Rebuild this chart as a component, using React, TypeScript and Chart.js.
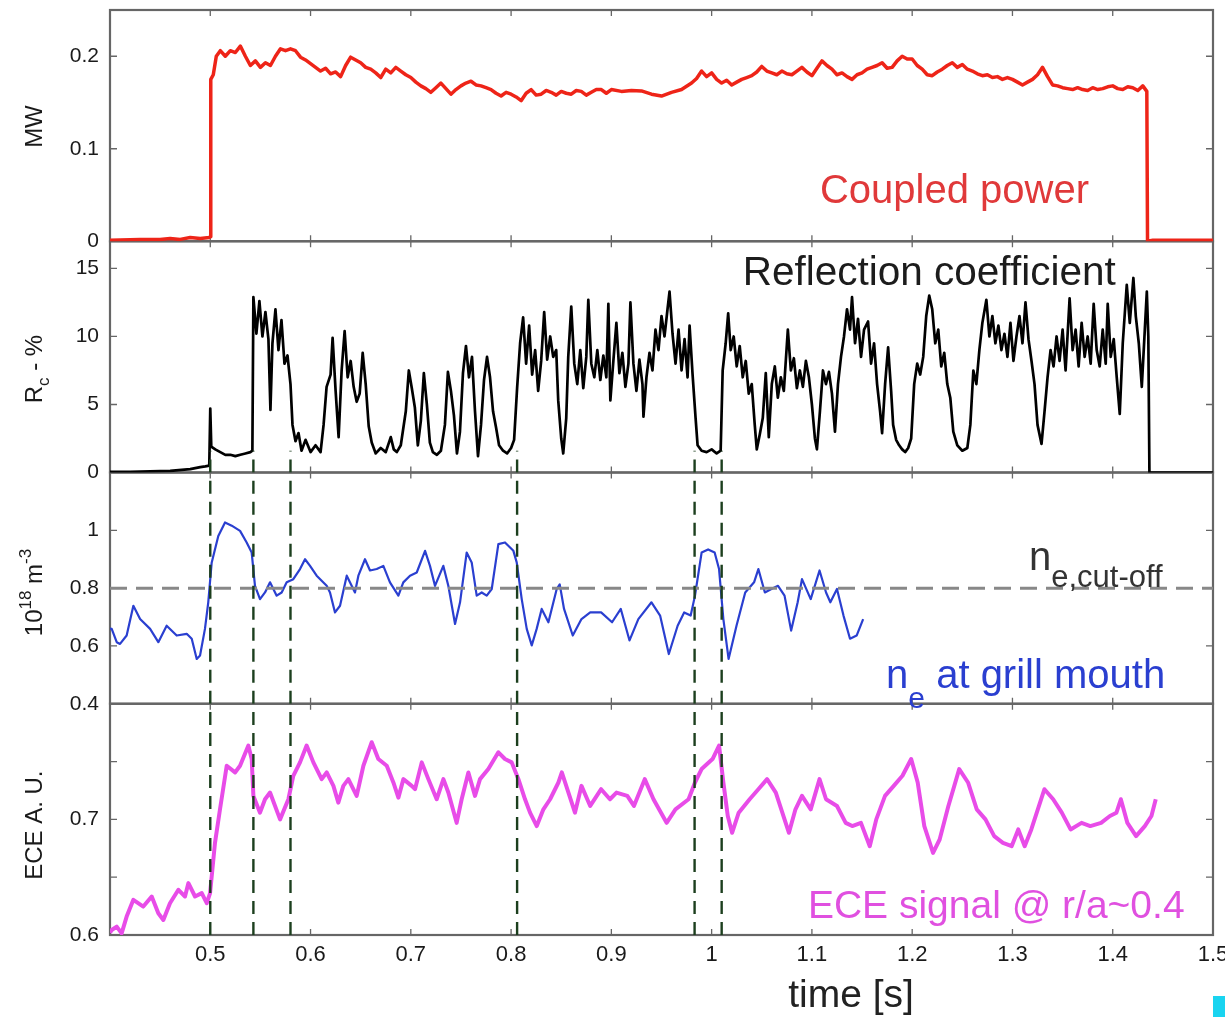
import React, { useEffect, useRef } from 'react';
import { Chart, registerables } from 'chart.js';

Chart.register(...registerables);

// ---------- axis ranges & ticks ----------
const X_MIN = 0.4;
const X_MAX = 1.5;
const xTicks = [0.5, 0.6, 0.7, 0.8, 0.9, 1.0, 1.1, 1.2, 1.3, 1.4, 1.5];
const powerTicks = [0, 0.1, 0.2];
const rcTicks = [0, 5, 10, 15];
const neTicks = [0.4, 0.6, 0.8, 1];
const eceTicks = [0.6, 0.65, 0.7, 0.75];
const eceLabeled = [0.6, 0.7];

// ---------- coupled power (MW) ----------
const powerT = [0.4, 0.43, 0.45, 0.46, 0.47, 0.48, 0.49, 0.499, 0.5, 0.5005, 0.503, 0.506, 0.51, 0.515, 0.52, 0.525, 0.53, 0.535, 0.54, 0.545, 0.55, 0.555, 0.56, 0.565, 0.57, 0.575, 0.58, 0.585, 0.59, 0.595, 0.6, 0.605, 0.61, 0.615, 0.62, 0.625, 0.63, 0.635, 0.64, 0.645, 0.65, 0.655, 0.66, 0.665, 0.67, 0.675, 0.68, 0.685, 0.69, 0.695, 0.7, 0.705, 0.71, 0.715, 0.72, 0.725, 0.73, 0.735, 0.74, 0.745, 0.75, 0.755, 0.76, 0.765, 0.77, 0.775, 0.78, 0.785, 0.79, 0.795, 0.8, 0.805, 0.81, 0.815, 0.82, 0.825, 0.83, 0.835, 0.84, 0.845, 0.85, 0.855, 0.86, 0.865, 0.87, 0.875, 0.88, 0.885, 0.89, 0.895, 0.9, 0.91, 0.92, 0.93, 0.94, 0.95, 0.96, 0.97, 0.98, 0.985, 0.99, 0.995, 1.0, 1.005, 1.01, 1.015, 1.02, 1.025, 1.03, 1.035, 1.04, 1.045, 1.05, 1.055, 1.06, 1.065, 1.07, 1.075, 1.08, 1.085, 1.09, 1.095, 1.1, 1.105, 1.11, 1.115, 1.12, 1.125, 1.13, 1.135, 1.14, 1.145, 1.15, 1.155, 1.16, 1.165, 1.17, 1.175, 1.18, 1.185, 1.19, 1.195, 1.2, 1.205, 1.21, 1.215, 1.22, 1.225, 1.23, 1.235, 1.24, 1.245, 1.25, 1.255, 1.26, 1.265, 1.27, 1.275, 1.28, 1.285, 1.29, 1.295, 1.3, 1.305, 1.31, 1.315, 1.32, 1.325, 1.33, 1.335, 1.34, 1.345, 1.35, 1.355, 1.36, 1.365, 1.37, 1.375, 1.38, 1.385, 1.39, 1.395, 1.4, 1.405, 1.41, 1.415, 1.42, 1.425, 1.43, 1.434, 1.4347, 1.44, 1.5];
const powerV = [0.001, 0.002, 0.002, 0.003, 0.002, 0.004, 0.003, 0.004, 0.005, 0.175, 0.18, 0.2, 0.206, 0.2, 0.206, 0.204, 0.211, 0.2, 0.19, 0.195, 0.188, 0.193, 0.19, 0.2, 0.208, 0.206, 0.208, 0.206, 0.199, 0.196, 0.192, 0.188, 0.184, 0.187, 0.181, 0.183, 0.178, 0.19, 0.199, 0.196, 0.193, 0.188, 0.186, 0.182, 0.177, 0.186, 0.182, 0.188, 0.184, 0.18, 0.177, 0.172, 0.168, 0.165, 0.161, 0.166, 0.171, 0.165, 0.159, 0.164, 0.168, 0.171, 0.173, 0.169, 0.168, 0.166, 0.164, 0.16, 0.157, 0.161, 0.159, 0.156, 0.152, 0.16, 0.164, 0.158, 0.159, 0.163, 0.161, 0.158, 0.162, 0.16, 0.159, 0.163, 0.162, 0.158, 0.161, 0.164, 0.164, 0.16, 0.164, 0.162, 0.163, 0.1625, 0.159, 0.157, 0.161, 0.164, 0.171, 0.176, 0.184, 0.178, 0.182, 0.175, 0.171, 0.174, 0.169, 0.172, 0.175, 0.177, 0.179, 0.183, 0.189, 0.184, 0.182, 0.18, 0.184, 0.181, 0.18, 0.184, 0.188, 0.183, 0.179, 0.187, 0.195, 0.19, 0.186, 0.18, 0.182, 0.178, 0.175, 0.18, 0.182, 0.186, 0.188, 0.19, 0.193, 0.187, 0.188, 0.195, 0.2, 0.197, 0.197, 0.19, 0.186, 0.18, 0.179, 0.183, 0.186, 0.19, 0.193, 0.188, 0.191, 0.186, 0.184, 0.181, 0.179, 0.18, 0.177, 0.178, 0.175, 0.177, 0.175, 0.172, 0.169, 0.172, 0.175, 0.18, 0.188, 0.178, 0.169, 0.168, 0.166, 0.165, 0.164, 0.166, 0.164, 0.163, 0.166, 0.164, 0.165, 0.167, 0.168, 0.165, 0.164, 0.167, 0.166, 0.163, 0.168, 0.162, 0.0, 0.001, 0.001];

// ---------- reflection coefficient (%) ----------
const rcT = [0.4, 0.42, 0.44, 0.46, 0.48, 0.49, 0.495, 0.499, 0.5, 0.501, 0.505, 0.51, 0.515, 0.52, 0.525, 0.53, 0.535, 0.54, 0.542, 0.543, 0.546, 0.549, 0.552, 0.555, 0.558, 0.56, 0.562, 0.565, 0.568, 0.571, 0.574, 0.577, 0.58, 0.582, 0.585, 0.588, 0.591, 0.595, 0.6, 0.605, 0.61, 0.613, 0.616, 0.62, 0.622, 0.625, 0.628, 0.631, 0.634, 0.637, 0.64, 0.643, 0.646, 0.649, 0.652, 0.655, 0.658, 0.661, 0.665, 0.67, 0.675, 0.68, 0.683, 0.686, 0.69, 0.695, 0.698, 0.701, 0.704, 0.707, 0.71, 0.713, 0.716, 0.719, 0.722, 0.726, 0.73, 0.734, 0.737, 0.74, 0.743, 0.746, 0.749, 0.752, 0.755, 0.758, 0.761, 0.764, 0.767, 0.77, 0.773, 0.776, 0.779, 0.782, 0.785, 0.788, 0.792, 0.796, 0.8, 0.803, 0.806, 0.809, 0.812, 0.815, 0.818, 0.821, 0.824, 0.827, 0.83, 0.833, 0.836, 0.839, 0.842, 0.845, 0.847, 0.85, 0.852, 0.855, 0.857, 0.86, 0.863, 0.866, 0.869, 0.872, 0.875, 0.877, 0.88, 0.883, 0.886, 0.889, 0.892, 0.895, 0.897, 0.899, 0.902, 0.905, 0.908, 0.911, 0.914, 0.917, 0.919, 0.922, 0.925, 0.928, 0.931, 0.932, 0.935, 0.938, 0.941, 0.944, 0.947, 0.95, 0.953, 0.956, 0.958, 0.961, 0.964, 0.967, 0.97, 0.973, 0.976, 0.978, 0.981, 0.984, 0.986, 0.99, 0.995, 1.0, 1.005, 1.009, 1.011, 1.014, 1.0165, 1.019, 1.022, 1.025, 1.028, 1.031, 1.034, 1.037, 1.04, 1.043, 1.045, 1.048, 1.051, 1.054, 1.057, 1.06, 1.063, 1.066, 1.069, 1.072, 1.076, 1.079, 1.082, 1.085, 1.088, 1.091, 1.094, 1.097, 1.1, 1.103, 1.105, 1.108, 1.111, 1.114, 1.117, 1.12, 1.123, 1.126, 1.129, 1.132, 1.135, 1.138, 1.14, 1.143, 1.146, 1.149, 1.152, 1.156, 1.159, 1.162, 1.165, 1.168, 1.17, 1.173, 1.176, 1.179, 1.181, 1.184, 1.187, 1.19, 1.193, 1.196, 1.199, 1.202, 1.205, 1.208, 1.211, 1.214, 1.217, 1.22, 1.223, 1.226, 1.229, 1.232, 1.235, 1.238, 1.241, 1.245, 1.25, 1.255, 1.258, 1.261, 1.264, 1.267, 1.27, 1.274, 1.277, 1.28, 1.283, 1.286, 1.289, 1.292, 1.295, 1.298, 1.301, 1.304, 1.307, 1.31, 1.313, 1.316, 1.319, 1.322, 1.325, 1.329, 1.332, 1.335, 1.338, 1.341, 1.344, 1.347, 1.35, 1.353, 1.357, 1.36, 1.363, 1.366, 1.369, 1.372, 1.375, 1.378, 1.381, 1.384, 1.387, 1.39, 1.393, 1.395, 1.398, 1.401, 1.404, 1.407, 1.41, 1.414, 1.417, 1.4206, 1.423, 1.426, 1.429, 1.432, 1.434, 1.4355, 1.4366, 1.44, 1.5];
const rcV = [0.05, 0.05, 0.08, 0.12, 0.25, 0.4, 0.45, 0.5, 4.7, 1.9, 1.7, 1.5, 1.3, 1.3, 1.2, 1.3, 1.4, 1.5, 1.6, 12.9, 10.2, 12.6, 10.0, 11.8, 9.8, 4.6, 9.5, 12.0, 9.0, 11.2, 8.0, 8.6, 6.5, 3.5, 2.3, 2.9, 1.6, 2.4, 1.5, 2.0, 1.5, 3.5, 6.3, 7.2, 9.9, 6.0, 2.6, 7.5, 10.4, 7.0, 8.2, 6.3, 5.2, 5.8, 8.8, 6.5, 3.4, 2.2, 1.4, 1.8, 1.5, 2.6, 1.7, 1.5, 2.0, 4.5, 7.5, 6.2, 4.8, 2.0, 3.8, 7.3, 5.0, 2.2, 1.5, 1.3, 1.6, 3.5, 7.4, 6.0, 4.2, 1.4, 3.0, 7.3, 9.3, 7.0, 8.5, 4.5, 1.2, 3.5, 6.8, 8.5, 7.0, 4.5, 3.3, 2.0, 1.6, 1.4, 1.8, 2.4, 6.2, 9.5, 11.4, 8.0, 10.8, 7.2, 9.0, 6.0, 8.2, 11.8, 8.3, 10.0, 8.5, 9.0, 5.3, 2.5, 1.4, 4.0, 8.5, 12.2, 8.0, 6.5, 9.0, 6.2, 8.5, 12.7, 8.0, 7.0, 9.0, 6.8, 8.6, 7.0, 12.4, 5.3, 8.2, 11.0, 7.3, 8.8, 6.3, 8.0, 12.5, 8.0, 6.0, 8.3, 6.5, 4.1, 7.0, 8.8, 7.5, 10.5, 9.0, 11.5, 10.0, 12.0, 13.3, 10.2, 8.0, 10.5, 7.5, 9.8, 7.0, 10.8, 7.2, 4.0, 2.0, 1.6, 1.5, 1.7, 1.4, 1.6, 7.5, 9.5, 11.7, 9.0, 10.0, 7.8, 9.3, 7.0, 8.2, 5.8, 6.5, 3.5, 1.7, 2.8, 4.0, 7.3, 2.6, 6.5, 7.8, 5.5, 7.0, 6.0, 10.5, 7.5, 8.4, 6.2, 7.5, 6.3, 8.2, 7.0, 5.0, 2.5, 1.7, 4.5, 7.5, 6.5, 7.4, 5.8, 3.0, 6.5, 8.5, 10.0, 12.0, 10.5, 12.9, 9.5, 11.3, 8.5, 10.5, 11.1, 8.0, 9.5, 6.5, 4.5, 2.9, 6.5, 9.2, 6.0, 3.5, 2.4, 2.0, 1.7, 1.5, 1.8, 2.5, 6.5, 8.0, 7.2, 8.5, 11.5, 13.0, 12.0, 9.5, 10.5, 7.8, 8.8, 6.5, 5.5, 3.0, 2.0, 1.6, 1.8, 3.5, 7.5, 6.5, 9.0, 11.0, 12.7, 10.0, 11.5, 9.5, 10.8, 9.0, 10.2, 8.5, 11.0, 8.2, 10.0, 11.5, 9.5, 12.5, 9.8, 8.2, 6.5, 3.5, 2.1, 4.5, 7.0, 9.0, 7.8, 10.0, 8.2, 10.5, 7.5, 12.8, 9.0, 10.5, 7.8, 11.0, 8.5, 10.0, 8.0, 12.4, 9.0, 7.8, 10.5, 8.0, 12.4, 8.5, 9.8, 7.0, 4.3, 9.5, 13.8, 11.0, 14.3, 11.5, 9.5, 6.3, 10.5, 13.3, 10.0, 0.0, 0.0, 0.0];

// ---------- density at grill mouth (1e18 m^-3) ----------
const neT = [0.4, 0.4017, 0.4067, 0.41, 0.4166, 0.4233, 0.43, 0.44, 0.4482, 0.4565, 0.4665, 0.4765, 0.4815, 0.4865, 0.4898, 0.4947, 0.498, 0.5014, 0.508, 0.5147, 0.5214, 0.5297, 0.5363, 0.5413, 0.5446, 0.5496, 0.5546, 0.5596, 0.5662, 0.5712, 0.5762, 0.5828, 0.5895, 0.5945, 0.5995, 0.6061, 0.6161, 0.6194, 0.6244, 0.6294, 0.6361, 0.641, 0.6443, 0.6477, 0.6543, 0.6593, 0.666, 0.6726, 0.6792, 0.6876, 0.6925, 0.6992, 0.7059, 0.7142, 0.7191, 0.7241, 0.7324, 0.7374, 0.7441, 0.7491, 0.7557, 0.7607, 0.7657, 0.7707, 0.7757, 0.7807, 0.7873, 0.7939, 0.8023, 0.8056, 0.8106, 0.8156, 0.8206, 0.8255, 0.8305, 0.8372, 0.8455, 0.8485, 0.8528, 0.8615, 0.8702, 0.8789, 0.8898, 0.9007, 0.9094, 0.9181, 0.9269, 0.94, 0.9486, 0.9573, 0.9661, 0.9726, 0.9791, 0.9834, 0.99, 0.9965, 1.003, 1.0074, 1.0117, 1.0169, 1.0248, 1.0335, 1.0423, 1.0466, 1.0531, 1.0596, 1.0662, 1.0727, 1.0793, 1.0858, 1.0901, 1.0988, 1.1076, 1.1141, 1.1184, 1.125, 1.1315, 1.138, 1.1446, 1.1511];
const neV = [0.66, 0.659, 0.613, 0.607, 0.636, 0.739, 0.693, 0.659, 0.613, 0.67, 0.636, 0.642, 0.625, 0.555, 0.567, 0.659, 0.751, 0.888, 0.98, 1.027, 1.016, 0.998, 0.958, 0.923, 0.808, 0.762, 0.785, 0.82, 0.774, 0.785, 0.82, 0.831, 0.866, 0.9, 0.877, 0.843, 0.808, 0.785, 0.716, 0.739, 0.843, 0.808, 0.785, 0.843, 0.9, 0.861, 0.866, 0.877, 0.82, 0.774, 0.82, 0.843, 0.854, 0.929, 0.877, 0.808, 0.877, 0.808, 0.676, 0.751, 0.923, 0.889, 0.774, 0.785, 0.774, 0.797, 0.952, 0.958, 0.929, 0.889, 0.762, 0.659, 0.602, 0.659, 0.728, 0.682, 0.797, 0.813, 0.728, 0.636, 0.693, 0.716, 0.716, 0.682, 0.728, 0.619, 0.693, 0.751, 0.705, 0.572, 0.67, 0.716, 0.705, 0.774, 0.923, 0.934, 0.923, 0.866, 0.693, 0.555, 0.67, 0.785, 0.82, 0.866, 0.785, 0.797, 0.808, 0.774, 0.653, 0.751, 0.831, 0.762, 0.861, 0.785, 0.751, 0.797, 0.705, 0.625, 0.636, 0.693];
const cutoffDensity = 0.8;

// ---------- ECE signal (a.u.) ----------
const eceT = [0.4, 0.4017, 0.4067, 0.4116, 0.4166, 0.4233, 0.4332, 0.4416, 0.4482, 0.4532, 0.4598, 0.4682, 0.4748, 0.4782, 0.4848, 0.4915, 0.4965, 0.4998, 0.5047, 0.5097, 0.5164, 0.5247, 0.5297, 0.538, 0.5413, 0.543, 0.5496, 0.5546, 0.5596, 0.5696, 0.5779, 0.5828, 0.5895, 0.5961, 0.6028, 0.6111, 0.6161, 0.6228, 0.6277, 0.6327, 0.6377, 0.646, 0.6527, 0.661, 0.6676, 0.676, 0.6826, 0.6876, 0.6926, 0.7009, 0.7042, 0.7109, 0.7175, 0.7258, 0.7325, 0.7374, 0.7457, 0.7507, 0.7574, 0.764, 0.769, 0.7773, 0.7873, 0.7939, 0.8006, 0.8073, 0.8139, 0.8189, 0.8256, 0.8322, 0.8389, 0.8472, 0.8506, 0.8594, 0.8637, 0.8702, 0.8789, 0.8898, 0.8986, 0.9051, 0.9159, 0.9225, 0.9333, 0.942, 0.9551, 0.9639, 0.977, 0.9834, 0.99, 1.0009, 1.0074, 1.0117, 1.0161, 1.0204, 1.027, 1.0379, 1.0466, 1.0553, 1.064, 1.0771, 1.0836, 1.0901, 1.0988, 1.1076, 1.1141, 1.125, 1.1337, 1.1402, 1.1489, 1.1577, 1.1642, 1.1729, 1.1816, 1.1903, 1.199, 1.2055, 1.2121, 1.2208, 1.2274, 1.2361, 1.2469, 1.2557, 1.2644, 1.2731, 1.2818, 1.2905, 1.2992, 1.3058, 1.3122, 1.3188, 1.3253, 1.3319, 1.3406, 1.3492, 1.358, 1.3689, 1.3776, 1.3884, 1.3972, 1.4037, 1.4081, 1.4146, 1.4233, 1.432, 1.4386, 1.4429];
const eceV = [0.602, 0.6043, 0.6072, 0.6014, 0.6159, 0.6304, 0.6246, 0.6333, 0.6188, 0.613, 0.6275, 0.6391, 0.6333, 0.6449, 0.6333, 0.6362, 0.6275, 0.6362, 0.6797, 0.7087, 0.7464, 0.7406, 0.7464, 0.7638, 0.7522, 0.7203, 0.7058, 0.7174, 0.7232, 0.70, 0.7174, 0.7377, 0.7493, 0.7638, 0.7493, 0.7348, 0.7406, 0.729, 0.7145, 0.729, 0.7348, 0.7203, 0.7464, 0.7667, 0.7522, 0.7464, 0.7319, 0.7188, 0.7348, 0.729, 0.7261, 0.7493, 0.7348, 0.7174, 0.7348, 0.7232, 0.697, 0.7174, 0.7406, 0.7203, 0.7348, 0.7435, 0.758, 0.7522, 0.7493, 0.7348, 0.7174, 0.7058, 0.6942, 0.7087, 0.7174, 0.7319, 0.7406, 0.7174, 0.7058, 0.729, 0.7116, 0.7261, 0.7174, 0.7232, 0.7203, 0.7116, 0.7348, 0.7174, 0.697, 0.7087, 0.7174, 0.7319, 0.7435, 0.7522, 0.7638, 0.7319, 0.7029, 0.6884, 0.7058, 0.7174, 0.7261, 0.7348, 0.7232, 0.6884, 0.7087, 0.7203, 0.7087, 0.7348, 0.7174, 0.7116, 0.697, 0.6942, 0.697, 0.6768, 0.70, 0.7203, 0.729, 0.7377, 0.7522, 0.7319, 0.6942, 0.671, 0.6826, 0.7116, 0.7435, 0.7319, 0.7087, 0.70, 0.6855, 0.6797, 0.6768, 0.6913, 0.6768, 0.6913, 0.7087, 0.7261, 0.7174, 0.7058, 0.6913, 0.697, 0.6942, 0.697, 0.7029, 0.7058, 0.7174, 0.697, 0.6855, 0.6942, 0.7029, 0.7174];

// ---------- event markers (s) ----------
const markerTimes = [0.5, 0.543, 0.58, 0.806, 0.983, 1.01];

// ---------- styling ----------
const FONT = "'Liberation Sans', Arial, Helvetica, sans-serif";
const FRAME = '#666666';
const RED = '#ee2418';
const BLUE = '#2a3fd0';
const MAGENTA = '#e84ce8';
const MARKER = '#1c3f1e';

const pts = (ts: number[], vs: number[]) => ts.map((t, i) => ({ x: t, y: vs[i] }));
const markerPts = (lo: number, hi: number) =>
  markerTimes.flatMap((t) => [{ x: t, y: lo }, { x: t, y: hi }, { x: t, y: null as any }]);

type Run = { t: string; size: number; dy?: number };

function runsWidth(ctx: CanvasRenderingContext2D, runs: Run[], family: string) {
  let w = 0;
  for (const r of runs) {
    ctx.font = `${r.size}px ${family}`;
    w += ctx.measureText(r.t).width;
  }
  return w;
}
function drawRuns(ctx: CanvasRenderingContext2D, x: number, y: number, runs: Run[], family: string) {
  let cx = x;
  for (const r of runs) {
    ctx.font = `${r.size}px ${family}`;
    ctx.fillText(r.t, cx, y + (r.dy || 0));
    cx += ctx.measureText(r.t).width;
  }
}

const panelAxes = ['yP', 'yR', 'yN', 'yE'];
const panelTicks: Record<string, number[]> = { yP: powerTicks, yR: rcTicks, yN: neTicks, yE: eceTicks };

const decorPlugin = {
  id: 'decor',
  beforeDatasetsDraw(chart: any) {
    const { ctx, chartArea } = chart;
    const xs = chart.scales.x;
    ctx.save();
    ctx.strokeStyle = FRAME;
    for (const id of panelAxes) {
      const s = chart.scales[id];
      ctx.lineWidth = 2.2;
      ctx.strokeRect(chartArea.left, s.top, chartArea.right - chartArea.left, s.bottom - s.top);
      ctx.lineWidth = 1.3;
      ctx.beginPath();
      for (const v of xTicks) {
        if (v >= X_MAX) continue;
        const px = xs.getPixelForValue(v);
        ctx.moveTo(px, s.top);
        ctx.lineTo(px, s.top + 6);
        ctx.moveTo(px, s.bottom);
        ctx.lineTo(px, s.bottom - 6);
      }
      for (const v of panelTicks[id]) {
        const py = s.getPixelForValue(v);
        if (py >= s.bottom - 1 || py <= s.top + 1) continue;
        ctx.moveTo(chartArea.left, py);
        ctx.lineTo(chartArea.left + 7, py);
        ctx.moveTo(chartArea.right, py);
        ctx.lineTo(chartArea.right - 7, py);
      }
      ctx.stroke();
    }
    ctx.restore();
  },
  afterDraw(chart: any) {
    const { ctx } = chart;
    const xs = chart.scales.x;
    const S = chart.scales;
    ctx.save();
    ctx.textBaseline = 'alphabetic';
    ctx.textAlign = 'left';

    // in-panel labels
    ctx.fillStyle = '#e0393a';
    drawRuns(ctx, xs.getPixelForValue(1.108), S.yP.getPixelForValue(0.041), [{ t: 'Coupled power', size: 40 }], FONT);
    ctx.fillStyle = '#1c1c1c';
    drawRuns(ctx, xs.getPixelForValue(1.031), S.yR.getPixelForValue(13.8), [{ t: 'Reflection coefficient', size: 40.5 }], FONT);
    ctx.fillStyle = '#333333';
    drawRuns(ctx, xs.getPixelForValue(1.3165), S.yN.getPixelForValue(0.862), [
      { t: 'n', size: 40 },
      { t: 'e,cut-off', size: 31, dy: 17 },
    ], FONT);
    ctx.fillStyle = BLUE;
    drawRuns(ctx, xs.getPixelForValue(1.174), S.yN.getPixelForValue(0.455), [
      { t: 'n', size: 40 },
      { t: 'e', size: 30, dy: 20 },
      { t: ' at grill mouth', size: 40 },
    ], FONT);
    ctx.fillStyle = '#e050e0';
    drawRuns(ctx, xs.getPixelForValue(1.096), S.yE.getPixelForValue(0.6147), [{ t: 'ECE signal @ r/a~0.4', size: 39 }], FONT);

    // x title
    ctx.fillStyle = '#222222';
    ctx.textAlign = 'center';
    ctx.font = `39px ${FONT}`;
    ctx.fillText('time [s]', xs.getPixelForValue(1.139), 1007);

    // y titles (rotated)
    const titles: { id: string; v: number; runs: Run[] }[] = [
      { id: 'yP', v: 0.124, runs: [{ t: 'MW', size: 24 }] },
      { id: 'yR', v: 7.6, runs: [{ t: 'R', size: 24 }, { t: 'c', size: 17, dy: 7 }, { t: ' - %', size: 24 }] },
      { id: 'yN', v: 0.785, runs: [{ t: '10', size: 24 }, { t: '18', size: 17, dy: -11 }, { t: ' m', size: 24 }, { t: '-3', size: 17, dy: -11 }] },
      { id: 'yE', v: 0.695, runs: [{ t: 'ECE A. U.', size: 24 }] },
    ];
    ctx.fillStyle = '#1a1a1a';
    ctx.textAlign = 'left';
    for (const tt of titles) {
      const cy = S[tt.id].getPixelForValue(tt.v);
      ctx.save();
      ctx.translate(42, cy);
      ctx.rotate(-Math.PI / 2);
      const w = runsWidth(ctx, tt.runs, FONT);
      drawRuns(ctx, -w / 2, 0, tt.runs, FONT);
      ctx.restore();
    }

    // small cyan corner mark present in the source image
    ctx.fillStyle = '#19d4f0';
    ctx.fillRect(1213, 996, 12, 21);
    ctx.restore();
  },
};

function yAxis(min: number, max: number, weight: number, ticks: number[], label: (v: number) => string) {
  return {
    type: 'linear',
    position: 'left',
    stack: 'panels',
    stackWeight: 1,
    weight,
    min,
    max,
    grid: { display: false, drawTicks: false },
    border: { display: false },
    ticks: {
      padding: 11,
      color: '#1a1a1a',
      font: { family: FONT, size: 21 },
      callback: (v: number) => label(v),
    },
    afterBuildTicks: (axis: any) => {
      axis.ticks = ticks.map((v) => ({ value: v }));
    },
    afterFit: (axis: any) => {
      axis.width = 110;
      axis.paddingTop = 0;
      axis.paddingBottom = 0;
    },
  };
}

export default function App() {
  const ref = useRef<HTMLCanvasElement | null>(null);

  useEffect(() => {
    if (!ref.current) return;
    const chart = new Chart(ref.current, {
      type: 'line',
      data: {
        datasets: [
          { data: markerPts(0, 1.6), yAxisID: 'yR', borderColor: MARKER, borderWidth: 2.4, borderDash: [13, 8] },
          { data: markerPts(0.4, 1.2), yAxisID: 'yN', borderColor: MARKER, borderWidth: 2.4, borderDash: [13, 8] },
          { data: markerPts(0.6, 0.8), yAxisID: 'yE', borderColor: MARKER, borderWidth: 2.4, borderDash: [13, 8] },
          { data: [{ x: X_MIN, y: cutoffDensity }, { x: X_MAX, y: cutoffDensity }], yAxisID: 'yN', borderColor: '#888888', borderWidth: 3, borderDash: [17, 9] },
          { data: pts(powerT, powerV), yAxisID: 'yP', borderColor: RED, borderWidth: 3.5 },
          { data: pts(rcT, rcV), yAxisID: 'yR', borderColor: '#000000', borderWidth: 2.7 },
          { data: pts(neT, neV), yAxisID: 'yN', borderColor: BLUE, borderWidth: 2.2 },
          { data: pts(eceT, eceV), yAxisID: 'yE', borderColor: MAGENTA, borderWidth: 4 },
        ].map((d: any) => ({ ...d, pointRadius: 0, tension: 0, fill: false, spanGaps: false, borderJoinStyle: 'round' })),
      },
      options: {
        animation: false,
        responsive: false,
        events: [],
        layout: { padding: { top: 10, right: 12, bottom: 0, left: 0 } },
        plugins: { legend: { display: false }, tooltip: { enabled: false }, title: { display: false } },
        scales: {
          x: {
            type: 'linear',
            position: 'bottom',
            min: X_MIN,
            max: X_MAX,
            grid: { display: false, drawTicks: false },
            border: { display: false },
            ticks: {
              padding: 7,
              color: '#1a1a1a',
              maxRotation: 0,
              autoSkip: false,
              font: { family: FONT, size: 22 },
              callback: (v: number) => String(Math.round(v * 10) / 10),
            },
            afterBuildTicks: (axis: any) => {
              axis.ticks = xTicks.map((v) => ({ value: v }));
            },
            afterFit: (axis: any) => {
              axis.height = 82;
              axis.paddingLeft = 0;
              axis.paddingRight = 0;
            },
          },
          yE: yAxis(0.6, 0.8, 1, eceTicks, (v) => (eceLabeled.some((e) => Math.abs(e - v) < 1e-6) ? String(v) : '')),
          yN: yAxis(0.4, 1.2, 2, neTicks, (v) => String(v)),
          yR: yAxis(0, 17, 3, rcTicks, (v) => String(v)),
          yP: yAxis(0, 0.25, 4, powerTicks, (v) => String(v)),
        } as any,
      },
      plugins: [decorPlugin],
    } as any);
    return () => chart.destroy();
  }, []);

  return (
    <div style={{ position: 'absolute', left: 0, top: 0, width: 1225, height: 1017, background: '#ffffff' }}>
      <canvas ref={ref} width={1225} height={1017} style={{ display: 'block', width: 1225, height: 1017 }} />
    </div>
  );
}
